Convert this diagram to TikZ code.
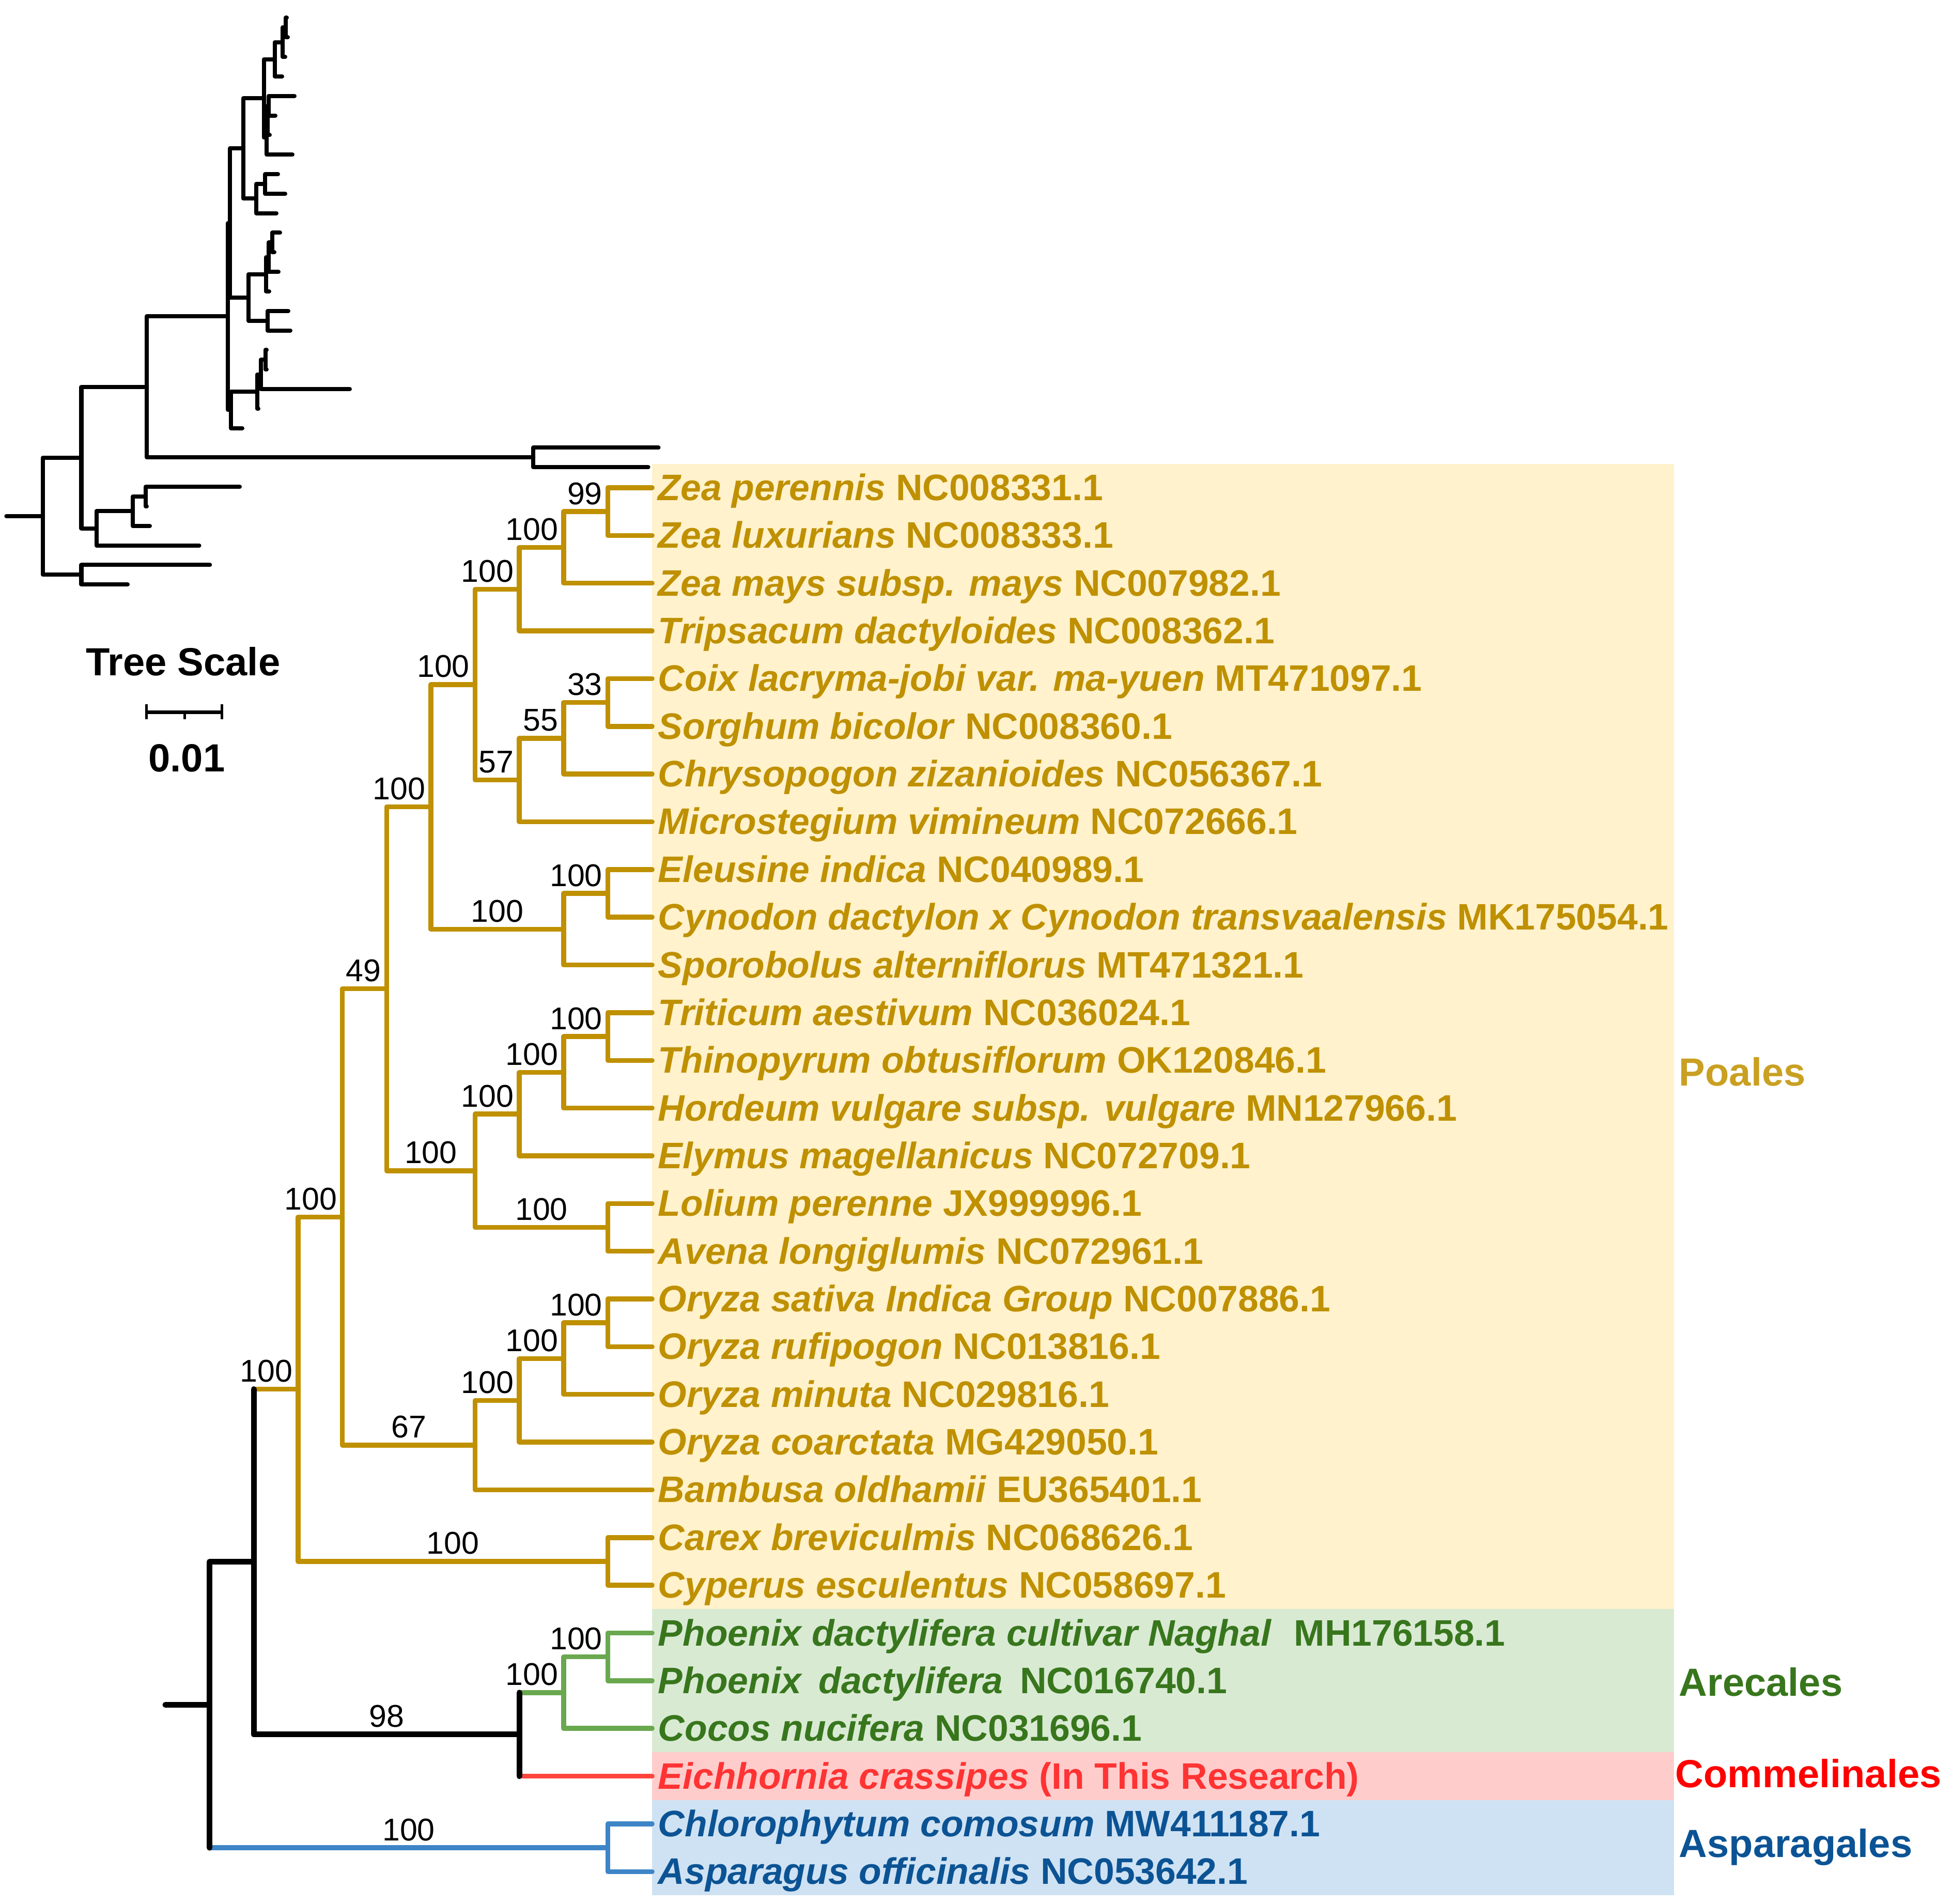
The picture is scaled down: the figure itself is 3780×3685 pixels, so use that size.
\documentclass[tikz,border=0pt]{standalone}
\usepackage{fontspec}
\setmainfont{Liberation Sans}
\usetikzlibrary{calc}

\definecolor{poagold}{RGB}{191,144,0}
\definecolor{poalabel}{RGB}{201,160,34}
\definecolor{poabg}{RGB}{255,242,204}
\definecolor{arecline}{RGB}{106,168,79}
\definecolor{arectext}{RGB}{56,118,29}
\definecolor{arecbg}{RGB}{217,234,211}
\definecolor{commline}{RGB}{255,68,60}
\definecolor{commtext}{RGB}{255,51,51}
\definecolor{commlabel}{RGB}{255,0,0}
\definecolor{commbg}{RGB}{255,204,204}
\definecolor{aspline}{RGB}{61,133,198}
\definecolor{asptext}{RGB}{11,83,148}
\definecolor{aspbg}{RGB}{207,226,243}

\begin{document}
\begin{tikzpicture}[x=0.01cm, y=-0.01cm,
    branch/.style={line width=0.095cm, line cap=round, line join=round},
    poa/.style={branch, draw=poagold},
    arec/.style={branch, draw=arecline},
    comm/.style={branch, draw=commline},
    asp/.style={branch, draw=aspline},
    blk/.style={branch, line width=0.11cm, draw=black},
    thin/.style={line width=0.08cm, line cap=round, line join=round, draw=black},
    leaf/.style={inner sep=0pt, font=\fontsize{20.3}{24}\selectfont\bfseries},
    boot/.style={inner sep=0pt, font=\fontsize{17.3}{20}\selectfont},
    clade/.style={inner sep=0pt, anchor=base west, font=\fontsize{21.6}{26}\selectfont\bfseries},
    scaletext/.style={inner sep=0pt, anchor=base, font=\fontsize{21.6}{26}\selectfont\bfseries}]

\useasboundingbox (0,0) rectangle (3780,3685);

% overview tree drawn with branch lengths
\begin{scope}[shift={(0,34.4)}, y=-0.378cm]
  \coordinate (ustub) at (12.4,25.5039);
  \coordinate (uroot) at (83,25.5039);
  \coordinate (uX) at (157.5,22.5078);
  \coordinate (uY) at (157.5,28.5);
  \coordinate (uW) at (284.4,18.8906);
  \coordinate (uV) at (1032.3,22.5);
  \coordinate (uU) at (441,15.2813);
  \coordinate (uP) at (445,10.5);
  \coordinate (uT) at (447,20.0625);
  \coordinate (uJ) at (470.7,6.6875);
  \coordinate (uG) at (510.5,4.125);
  \coordinate (uC) at (531.5,2.125);
  \coordinate (uB) at (547,1.25);
  \coordinate (uA) at (553,0.5);
  \coordinate (uF) at (516,6.125);
  \coordinate (uE) at (518,5.25);
  \coordinate (uD) at (520,4.5);
  \coordinate (uI) at (496,9.25);
  \coordinate (uH) at (513.3,8.5);
  \coordinate (uO) at (481,14.3125);
  \coordinate (uM) at (515,13.125);
  \coordinate (uL) at (520,12.25);
  \coordinate (uK) at (527,11.5);
  \coordinate (uN) at (518,15.5);
  \coordinate (uS) at (498,19.125);
  \coordinate (uR) at (505,18.25);
  \coordinate (uQ) at (513.5,17.5);
  \coordinate (uZc) at (186.6,26.125);
  \coordinate (uZb) at (257,25.25);
  \coordinate (uZa) at (282,24.5);
  % tips
  \foreach \i/\tipx in {0/555,1/557,2/552,3/546,4/570,5/533,6/522,7/566,8/538,9/552,
      10/535,11/542,12/531,13/539,14/521,15/558,16/562,17/516,18/516,19/677,20/500,
      21/469,22/1274.5,23/1254.6,24/464,25/284,26/290,27/385.6,28/406.3,29/247}
    \coordinate (u\i) at (\tipx,\i);

  \draw[thin] (ustub) -- (uroot);
  \foreach \pa/\ch in {uroot/uX, uroot/uY, uY/u28, uY/u29, uX/uW, uX/uZc,
      uZc/uZb, uZc/u27, uZb/uZa, uZb/u26, uZa/u24, uZa/u25,
      uW/uU, uW/uV, uV/u22, uV/u23, uU/uP, uU/uT,
      uP/uJ, uP/uO, uJ/uG, uJ/uI, uG/uC, uG/uF, uC/uB, uC/u3, uB/uA, uB/u2, uA/u0, uA/u1,
      uF/uE, uF/u7, uE/uD, uE/u6, uD/u4, uD/u5, uI/uH, uI/u10, uH/u8, uH/u9,
      uO/uM, uO/uN, uM/uL, uM/u14, uL/uK, uL/u13, uK/u11, uK/u12, uN/u15, uN/u16,
      uT/uS, uT/u21, uS/uR, uS/u20, uR/uQ, uR/u19, uQ/u17, uQ/u18}
    \draw[thin] (\pa) |- (\ch);
\end{scope}

% scale bar
\node[scaletext] (scaletitle) at (354.5,1307) {Tree Scale};
\coordinate (sbl) at (283.6,1378.6);
\coordinate (sbm) at (357,1378.6);
\coordinate (sbr) at (429.5,1378.6);
\draw[line width=0.07cm] (sbl) -- (sbr);
\draw[line width=0.05cm] ([yshift=0.155cm]sbl) -- ([yshift=-0.135cm]sbl);
\draw[line width=0.05cm] ([yshift=0.155cm]sbr) -- ([yshift=-0.135cm]sbr);
\draw[line width=0.05cm] (sbm) -- ([yshift=-0.135cm]sbm);
\node[scaletext] (scaleval) at (361.5,1493) {0.01};

% cladogram
\begin{scope}[shift={(320,944)}, x=0.856cm, y=-0.923cm]
  % clade bands
  \fill[poabg] (11,-0.5) rectangle (34.09,23.5);
  \fill[arecbg] (11,23.5) rectangle (34.09,26.5);
  \fill[commbg] (11,26.5) rectangle (34.09,27.5);
  \fill[aspbg] (11,27.5) rectangle (34.09,29.5);

  \foreach \i in {0,...,29}
    \coordinate (l\i) at (11,\i);
  \coordinate (stub) at (0,25.5039);
  \coordinate (nroot) at (1,25.5039);
  \coordinate (nX) at (2,22.5078);
  \coordinate (nW) at (3,18.8906);
  \coordinate (nU) at (4,15.2813);
  \coordinate (nP) at (5,10.5);
  \coordinate (nJ) at (6,6.6875);
  \coordinate (nG) at (7,4.125);
  \coordinate (nC) at (8,2.125);
  \coordinate (nB) at (9,1.25);
  \coordinate (nA) at (10,0.5);
  \coordinate (nF) at (8,6.125);
  \coordinate (nE) at (9,5.25);
  \coordinate (nD) at (10,4.5);
  \coordinate (nI) at (9,9.25);
  \coordinate (nH) at (10,8.5);
  \coordinate (nO) at (7,14.3125);
  \coordinate (nM) at (8,13.125);
  \coordinate (nL) at (9,12.25);
  \coordinate (nK) at (10,11.5);
  \coordinate (nN) at (10,15.5);
  \coordinate (nT) at (7,20.0625);
  \coordinate (nS) at (8,19.125);
  \coordinate (nR) at (9,18.25);
  \coordinate (nQ) at (10,17.5);
  \coordinate (nV) at (10,22.5);
  \coordinate (nZc) at (8,26.125);
  \coordinate (nZb) at (9,25.25);
  \coordinate (nZa) at (10,24.5);
  \coordinate (nY) at (10,28.5);

  % Poales
  \foreach \pa/\ch in {nA/l0, nA/l1, nB/nA, nB/l2, nC/nB, nC/l3, nD/l4, nD/l5, nE/nD, nE/l6,
      nF/nE, nF/l7, nG/nC, nG/nF, nH/l8, nH/l9, nI/nH, nI/l10, nJ/nG, nJ/nI,
      nK/l11, nK/l12, nL/nK, nL/l13, nM/nL, nM/l14, nN/l15, nN/l16, nO/nM, nO/nN,
      nP/nJ, nP/nO, nQ/l17, nQ/l18, nR/nQ, nR/l19, nS/nR, nS/l20, nT/nS, nT/l21,
      nU/nP, nU/nT, nV/l22, nV/l23, nW/nU, nW/nV}
    \draw[poa] (\pa) |- (\ch);
  \draw[poa] (nX |- nW) -- (nW);
  % Arecales, Commelinales, Asparagales
  \foreach \pa/\ch in {nZa/l24, nZa/l25, nZb/nZa, nZb/l26}
    \draw[arec] (\pa) |- (\ch);
  \draw[arec] (nZc |- nZb) -- (nZb);
  \draw[comm] (nZc |- l27) -- (l27);
  \draw[asp] (nY) |- (l28);
  \draw[asp] (nY) |- (l29);
  \draw[asp] (nroot |- nY) -- (nY);
  % backbone
  \draw[blk] (stub) -- (nroot);
  \draw[blk] (nX) -| (nroot |- nY);
  \draw[blk] (nX |- nW) |- (nZc);
  \draw[blk] (nZc |- nZb) -- (nZc |- l27);

  % support values
  \foreach \nd/\val in {A/99, B/100, C/100, D/33, E/55, F/57, G/100, H/100, J/100, K/100,
      L/100, M/100, P/49, Q/100, R/100, S/100, U/100, W/100, Za/100, Zb/100}
    \node[boot, anchor=base east, xshift=-0.1cm, yshift=0.14cm] (b\nd) at (n\nd) {\val};
  \foreach \nd/\pa/\val in {I/J/100, N/O/100, O/P/100, T/U/67, V/W/100, Zc/X/98, Y/root/100}
    \node[boot, anchor=base, yshift=0.14cm] (b\nd) at ($(n\pa |- n\nd)!0.5!(n\nd)$) {\val};

  % tip labels
  \foreach \i/\clr/\species/\accno in {
      0/poagold/{Zea perennis}/NC008331.1,
      1/poagold/{Zea luxurians}/NC008333.1,
      2/poagold/{Zea mays subsp. mays}/NC007982.1,
      3/poagold/{Tripsacum dactyloides}/NC008362.1,
      4/poagold/{Coix lacryma-jobi var. ma-yuen}/MT471097.1,
      5/poagold/{Sorghum bicolor}/NC008360.1,
      6/poagold/{Chrysopogon zizanioides}/NC056367.1,
      7/poagold/{Microstegium vimineum}/NC072666.1,
      8/poagold/{Eleusine indica}/NC040989.1,
      9/poagold/{Cynodon dactylon x Cynodon transvaalensis}/MK175054.1,
      10/poagold/{Sporobolus alterniflorus}/MT471321.1,
      11/poagold/{Triticum aestivum}/NC036024.1,
      12/poagold/{Thinopyrum obtusiflorum}/OK120846.1,
      13/poagold/{Hordeum vulgare subsp. vulgare}/MN127966.1,
      14/poagold/{Elymus magellanicus}/NC072709.1,
      15/poagold/{Lolium perenne}/JX999996.1,
      16/poagold/{Avena longiglumis}/NC072961.1,
      17/poagold/{Oryza sativa Indica Group}/NC007886.1,
      18/poagold/{Oryza rufipogon}/NC013816.1,
      19/poagold/{Oryza minuta}/NC029816.1,
      20/poagold/{Oryza coarctata}/MG429050.1,
      21/poagold/{Bambusa oldhamii}/EU365401.1,
      22/poagold/{Carex breviculmis}/NC068626.1,
      23/poagold/{Cyperus esculentus}/NC058697.1,
      24/arectext/{Phoenix dactylifera cultivar Naghal\hspace{0.33em}}/MH176158.1,
      25/arectext/{Phoenix\hspace{0.46em}dactylifera\hspace{0.18em}}/NC016740.1,
      26/arectext/{Cocos nucifera}/NC031696.1,
      27/commtext/{Eichhornia crassipes}/{(In This Research)},
      28/asptext/{Chlorophytum comosum}/MW411187.1,
      29/asptext/{Asparagus officinalis}/NC053642.1}
    \node[leaf, text=\clr, anchor=base west, xshift=0.11cm, yshift=-0.245cm] (t\i) at (l\i) {\textit{\species} \accno};
\end{scope}

% order labels
\node[clade, text=poalabel] (poales) at (3249,2101) {Poales};
\node[clade, text=arectext] (arecales) at (3249,3282) {Arecales};
\node[clade, text=commlabel] (commelinales) at (3242,3459) {Commelinales};
\node[clade, text=asptext] (asparagales) at (3249,3594) {Asparagales};

\end{tikzpicture}
\end{document}
